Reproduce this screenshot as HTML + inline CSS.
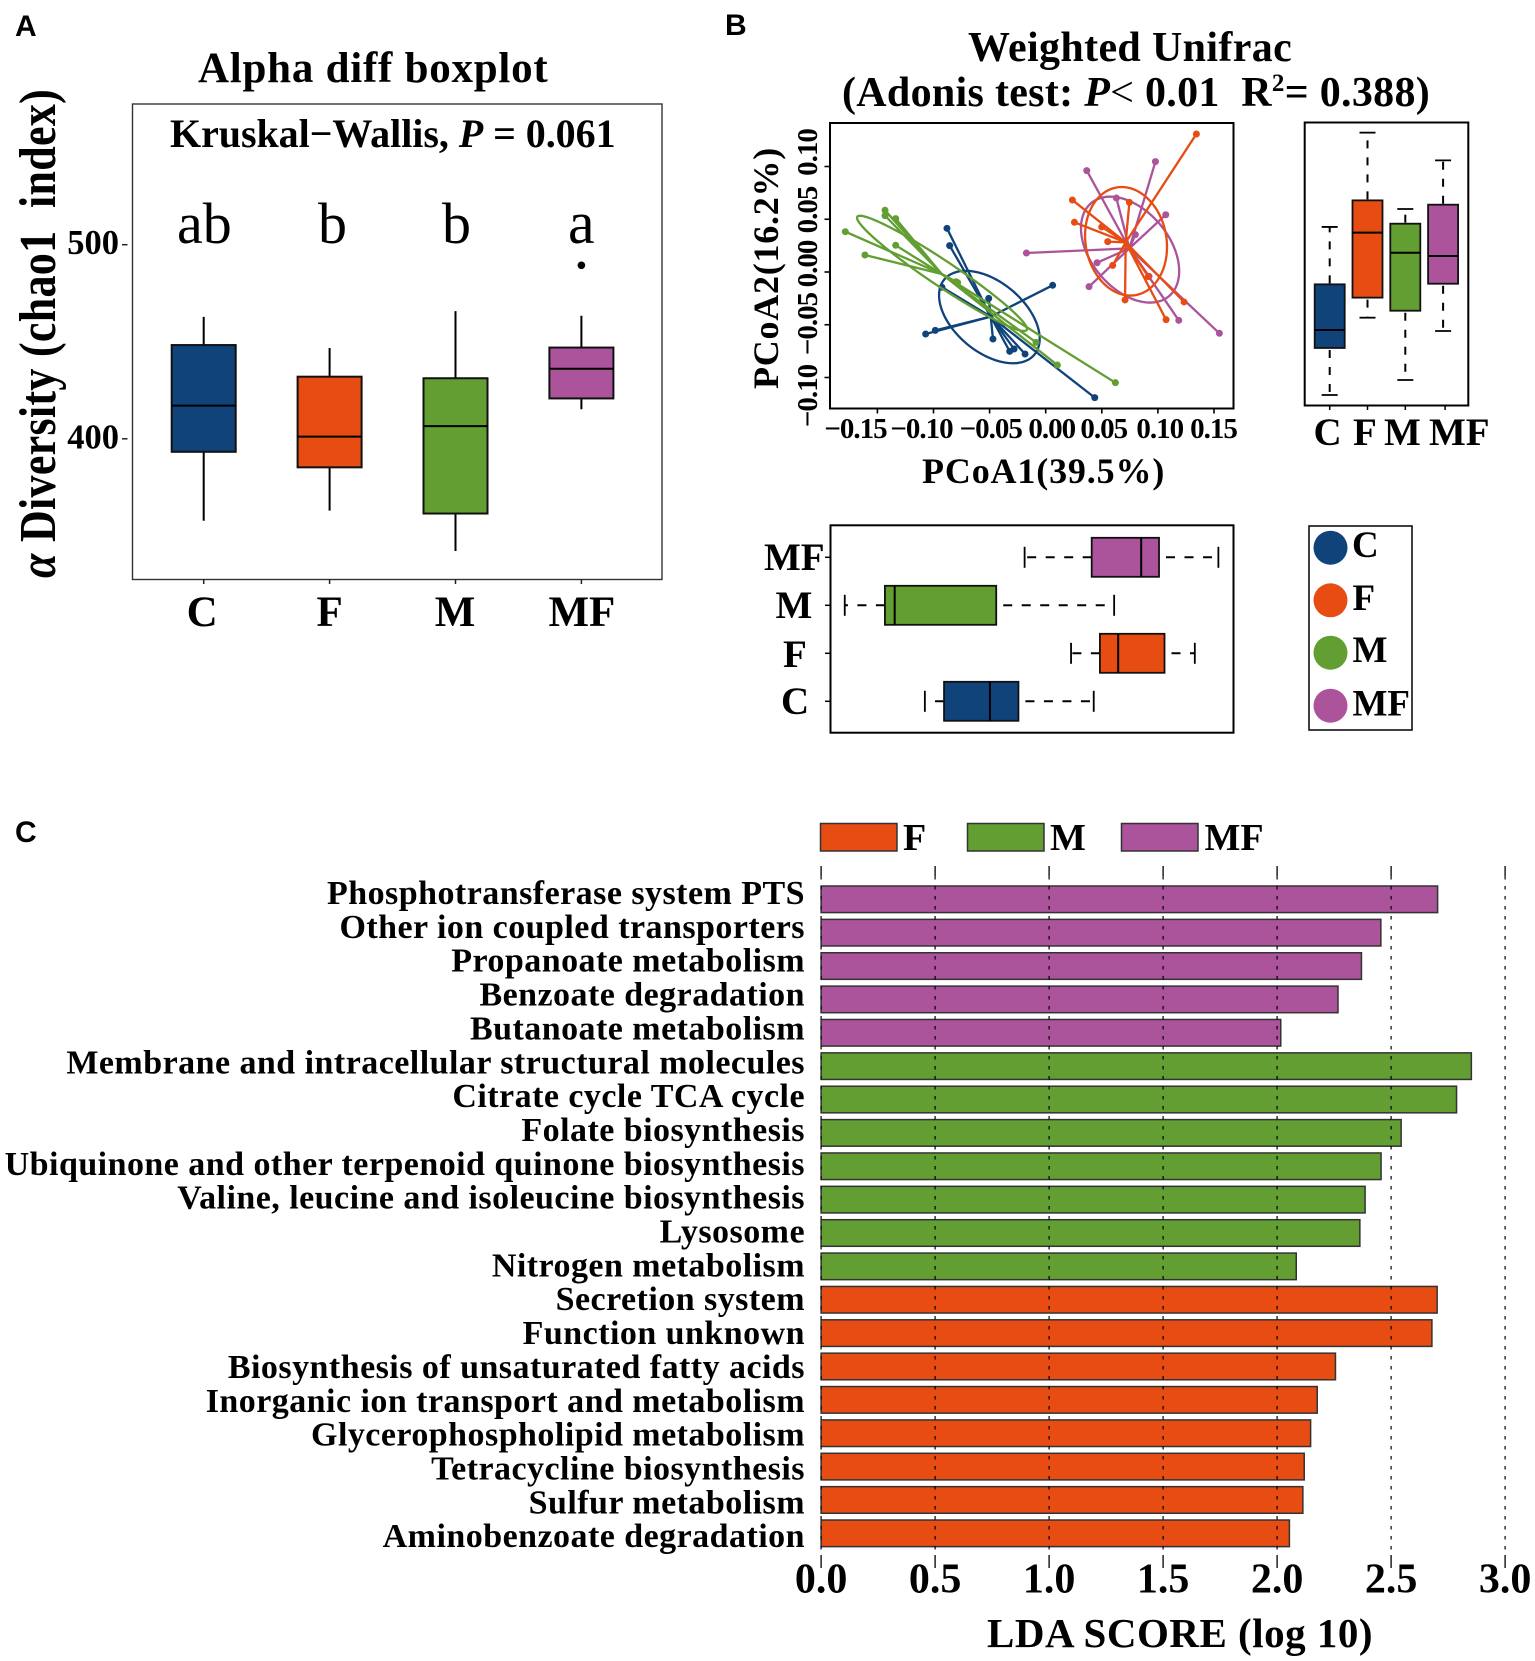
<!DOCTYPE html>
<html lang="en">
<head>
<meta charset="utf-8">
<title>Alpha diversity, PCoA and LDA score figure</title>
<style>
html,body{margin:0;padding:0;background:#fff;}
svg{display:block;}
text{font-family:"Liberation Serif",serif;font-weight:700;fill:#000;white-space:pre;}
.panel{font-family:"Liberation Sans",sans-serif;font-size:30px;}
.reg{font-weight:400;}
</style>
</head>
<body>
<svg id="fig" xmlns="http://www.w3.org/2000/svg" width="1535" height="1661" viewBox="0 0 1535 1661">
<rect x="0" y="0" width="1535" height="1661" fill="#fff"/>

<!-- Panel A static text -->
<text class="panel" x="15" y="36">A</text>
<text x="198" y="82" font-size="43" letter-spacing="0.75">Alpha diff boxplot</text>
<rect x="132.5" y="104" width="529.5" height="475.5" fill="none" stroke="#333" stroke-width="1.4"/>
<text x="170" y="147" font-size="40" letter-spacing="-0.05">Kruskal−Wallis, <tspan font-style="italic">P</tspan> = 0.061</text>
<text class="reg" x="177" y="243" font-size="58">ab</text>
<text class="reg" x="318" y="243" font-size="58">b</text>
<text class="reg" x="442" y="243" font-size="58">b</text>
<text class="reg" x="568" y="243" font-size="60">a</text>
<text transform="translate(55,578) rotate(-90) scale(1,1.18)" font-size="44" letter-spacing="0.3"><tspan font-style="italic">α</tspan> Diversity (chao1  index)</text>

<!-- Panel B static text -->
<text class="panel" x="725" y="35">B</text>
<text x="968" y="61" font-size="42" letter-spacing="0.35">Weighted Unifrac</text>
<text x="842" y="106" font-size="42" letter-spacing="0.3">(Adonis test: <tspan font-style="italic">P</tspan><tspan class="reg">&lt;</tspan> 0.01  R<tspan font-size="25" dy="-15">2</tspan><tspan dy="15">= 0.388)</tspan></text>
<text x="922" y="483" font-size="36" letter-spacing="0.85">PCoA1(39.5%)</text>
<text transform="translate(778,389) rotate(-90)" font-size="36" letter-spacing="0.75">PCoA2(16.2%)</text>

<g letter-spacing="-1" text-anchor="middle">
<text x="855.5" y="438" font-size="29">−0.15</text>
<text x="921.5" y="438" font-size="29">−0.10</text>
<text x="990.8" y="438" font-size="29">−0.05</text>
<text x="1051.8" y="438" font-size="29">0.00</text>
<text x="1103.8" y="438" font-size="29">0.05</text>
<text x="1159.7" y="438" font-size="29">0.10</text>
<text x="1213.5" y="438" font-size="29">0.15</text>
</g>
<g font-size="29" letter-spacing="-1" text-anchor="middle">
<text transform="translate(817,152.5) rotate(-90)">0.10</text>
<text transform="translate(817,210) rotate(-90)">0.05</text>
<text transform="translate(817,264) rotate(-90)">0.00</text>
<text transform="translate(817,324) rotate(-90)">−0.05</text>
<text transform="translate(817,396) rotate(-90)">−0.10</text>
</g>

<text x="1313.5" y="445" font-size="39">C</text>
<text x="1353" y="445" font-size="39">F</text>
<text x="1384" y="445" font-size="39">M</text>
<text x="1429" y="445" font-size="39">MF</text>

<text x="764" y="570" font-size="39">MF</text>
<text x="775.5" y="618" font-size="39">M</text>
<text x="783" y="667" font-size="39">F</text>
<text x="781" y="714" font-size="39">C</text>

<!-- Panel B legend -->
<g>
<rect x="1309" y="526" width="103" height="204" fill="none" stroke="#111" stroke-width="1.6"/>
<circle cx="1330.5" cy="547.7" r="17" fill="#0f437a"/>
<circle cx="1330.5" cy="600.3" r="17" fill="#e74c12"/>
<circle cx="1330.5" cy="652.7" r="17" fill="#629e32"/>
<circle cx="1330.5" cy="705.7" r="17" fill="#ab539b"/>
<text x="1352" y="557" font-size="37">C</text>
<text x="1352.5" y="610" font-size="37">F</text>
<text x="1352.5" y="662" font-size="37">M</text>
<text x="1352.5" y="715.5" font-size="37">MF</text>
</g>

<!-- Panel C static text -->
<text class="panel" x="15" y="842">C</text>
<g>
<rect x="820.5" y="823.5" width="76.5" height="27.5" fill="#e74c12" stroke="#333" stroke-width="1.5"/>
<text x="903" y="850" font-size="38">F</text>
<rect x="967.5" y="823.5" width="76.5" height="27.5" fill="#629e32" stroke="#333" stroke-width="1.5"/>
<text x="1050" y="850" font-size="38">M</text>
<rect x="1121.5" y="823.5" width="76.5" height="27.5" fill="#ab539b" stroke="#333" stroke-width="1.5"/>
<text x="1204.5" y="850" font-size="38">MF</text>
</g>
<text x="987" y="1647" font-size="41" letter-spacing="0.5">LDA SCORE (log 10)</text>
</svg>

<script>
/* ---------- Panel A: alpha diversity ---------- */
const groupNames = ['C', 'F', 'M', 'MF'];
const alphaWhiskerHigh = [462.8, 446.8, 465.8, 463.4];
const alphaQ3 = [448.3, 432.0, 431.2, 447.0];
const alphaMedian = [417.1, 401.1, 406.5, 436.1];
const alphaQ1 = [393.3, 385.3, 361.5, 420.8];
const alphaWhiskerLow = [357.8, 363.0, 342.2, 415.2];
const alphaOutliers = [null, null, null, 489.4];
const alphaTicks = [400, 500];

/* ---------- Panel B: PCoA samples (PCoA1, PCoA2) ---------- */
const cPoints = [[-0.1070,-0.0588],[-0.0984,-0.0553],[-0.0924,-0.0145],[-0.0880,0.0414],[-0.0856,0.0250],[-0.0508,-0.0250],[-0.0470,-0.0635],[-0.0321,-0.0752],[-0.0282,-0.0730],[-0.0184,-0.0777],[0.0062,-0.0126],[0.0437,-0.1191]];
const mPoints = [[-0.1786,0.0382],[-0.1611,0.0161],[-0.1432,0.0585],[-0.1432,0.0534],[-0.1337,0.0506],[-0.1337,0.0253],[-0.0785,-0.0101],[-0.0799,-0.0092],[-0.0086,-0.0667],[0.0104,-0.0882],[0.0621,-0.1049]];
const mfPoints = [[0.0366,0.0961],[0.0978,0.1046],[0.0630,0.0701],[0.1070,0.0543],[0.0799,0.0354],[-0.0172,0.0180],[0.0458,0.0088],[0.0386,-0.0139],[0.0921,-0.0041],[0.1186,-0.0458],[0.1548,-0.0581]];
const fPoints = [[0.1343,0.1308],[0.0238,0.0682],[0.0256,0.0471],[0.0499,0.0427],[0.0553,0.0288],[0.0597,0.0063],[0.0707,-0.0265],[0.0746,0.0660],[0.1073,-0.0452],[0.1233,-0.0284],[0.0915,-0.0044]];
const cCentroid = [-0.0490,-0.0423];
const mCentroid = [-0.0927,-0.0019];
const mfCentroid = [0.0746,0.0224];
const fCentroid = [0.0713,0.0281];
/* ellipses: centre, major semi-axis vector, minor semi-axis vector (data units) */
const cEllipse = [[-0.0502,-0.0427],[0.0401,-0.0357],[0.0201,0.0254]];
const mEllipse = [[-0.0924,-0.0013],[0.0755,-0.0537],[0.00624,0.00998]];
const mfEllipse = [[0.0752,0.0212],[0.0346,-0.0442],[0.0268,0.0238]];
const fEllipse = [[0.0716,0.0291],[0.0086,-0.0510],[0.0355,0.0068]];
const pcoaXTicks = [-0.15,-0.10,-0.05,0,0.05,0.10,0.15];
const pcoaYTicks = [-0.10,-0.05,0,0.05,0.10];

/* marginal box plots, order C F M MF */
const pc2High = [0.0427, 0.1321, 0.0597, 0.1058];
const pc2Q3 = [-0.0117, 0.0679, 0.0458, 0.0638];
const pc2Median = [-0.0550, 0.0373, 0.0183, 0.0152];
const pc2Q1 = [-0.0720, -0.0243, -0.0367, -0.0111];
const pc2Low = [-0.1166, -0.0433, -0.1024, -0.0559];
const pc1High = [0.0428, 0.1329, 0.0610, 0.1539];
const pc1Q3 = [-0.0243, 0.1059, -0.0441, 0.1010];
const pc1Median = [-0.0497, 0.0646, -0.1346, 0.0851];
const pc1Q1 = [-0.0906, 0.0483, -0.1433, 0.0410];
const pc1Low = [-0.1077, 0.0226, -0.1791, -0.0188];

/* ---------- Panel C: LDA ---------- */
const pathways = ['Phosphotransferase system PTS','Other ion coupled transporters','Propanoate metabolism','Benzoate degradation','Butanoate metabolism','Membrane and intracellular structural molecules','Citrate cycle TCA cycle','Folate biosynthesis','Ubiquinone and other terpenoid quinone biosynthesis','Valine, leucine and isoleucine biosynthesis','Lysosome','Nitrogen metabolism','Secretion system','Function unknown','Biosynthesis of unsaturated fatty acids','Inorganic ion transport and metabolism','Glycerophospholipid metabolism','Tetracycline biosynthesis','Sulfur metabolism','Aminobenzoate degradation'];
const ldaScores = [2.704,2.455,2.370,2.267,2.016,2.852,2.787,2.544,2.456,2.386,2.363,2.084,2.702,2.679,2.256,2.176,2.147,2.119,2.113,2.054];
const ldaGroups = ['MF','MF','MF','MF','MF','M','M','M','M','M','M','M','F','F','F','F','F','F','F','F'];
const ldaTicks = [0,0.5,1,1.5,2,2.5,3];
const ldaTickLabels = ['0.0','0.5','1.0','1.5','2.0','2.5','3.0'];

const COLORS = {C:'#0f437a', F:'#e74c12', M:'#629e32', MF:'#ab539b'};
const NS = 'http://www.w3.org/2000/svg';
const fig = document.getElementById('fig');

function add(parent, tag, attrs) {
  const e = document.createElementNS(NS, tag);
  for (const k in attrs) e.setAttribute(k, attrs[k]);
  parent.appendChild(e);
  return e;
}

/* axis functions */
const alphaX = i => 203.7 + i * 125.9;
const alphaY = v => 244.7 + (500 - v) * 1.941;
const pcoaX = v => 1045.7 + v * 1122;
const pcoaY = v => 272 - v * 1055;
const rightX = i => 1329.7 + i * 37.8;
const bottomY = i => 701.3 - i * 48;
const ldaX = v => 821.1 + v * 228;
const ldaY = i => 899.3 + i * 33.37;
const ldaLabelY = i => 904 + i * 33.85;

/* Panel A */
{
  const g = add(fig, 'g', {});
  
  
  alphaTicks.forEach(t => {
    const tick = add(g, 'line', {x1:122, x2:127.5, y1:alphaY(t), y2:alphaY(t), stroke:'#222', 'stroke-width':1.5});
    
    
    const label = add(g, 'text', {x:119, y:alphaY(t) + 9.5, 'font-size':34.5, 'text-anchor':'end'});
    
    
    label.textContent = t;
  });
  groupNames.forEach((name, i) => {
    const x = alphaX(i);
    const w = 64;
    const whisker = add(g, 'line', {x1:x, x2:x, y1:alphaY(alphaWhiskerHigh[i]), y2:alphaY(alphaWhiskerLow[i]), stroke:'#000', 'stroke-width':2});
    
    
    const box = add(g, 'rect', {x:x - w / 2, y:alphaY(alphaQ3[i]), width:w, height:alphaY(alphaQ1[i]) - alphaY(alphaQ3[i]), fill:COLORS[name], stroke:'#111', 'stroke-width':2});
    
    
    const med = add(g, 'line', {x1:x - w / 2, x2:x + w / 2, y1:alphaY(alphaMedian[i]), y2:alphaY(alphaMedian[i]), stroke:'#000', 'stroke-width':2});
    
    
    if (alphaOutliers[i] !== null) {
      const o = add(g, 'circle', {cx:x, cy:alphaY(alphaOutliers[i]), r:3.8, fill:'#000'});
      
      
    }
    const tick = add(g, 'line', {x1:x, x2:x, y1:579.5, y2:584, stroke:'#222', 'stroke-width':1.5});
    
    
    const label = add(g, 'text', {x:x + (i === 0 ? -1.5 : i === 1 ? 0 : i === 2 ? -0.5 : 0.5), y:626, 'font-size':43, 'text-anchor':'middle'});
    
    
    label.textContent = name;
  });
}

/* Panel B: scatter */
{
  const frame = add(fig, 'rect', {x:830, y:123, width:403.5, height:285.5, fill:'none', stroke:'#000', 'stroke-width':2});
  
  
  pcoaXTicks.forEach(t => {
    const tick = add(fig, 'line', {x1:pcoaX(t), x2:pcoaX(t), y1:408.5, y2:413.5, stroke:'#000', 'stroke-width':1.6});
    
    
  });
  pcoaYTicks.forEach(t => {
    const tick = add(fig, 'line', {x1:824.5, x2:830, y1:pcoaY(t), y2:pcoaY(t), stroke:'#000', 'stroke-width':1.6});
    
    
  });
  const series = [
    ['C', cPoints, cCentroid, cEllipse],
    ['M', mPoints, mCentroid, mEllipse],
    ['MF', mfPoints, mfCentroid, mfEllipse],
    ['F', fPoints, fCentroid, fEllipse]
  ];
  series.forEach(([name, pts, hub, ell]) => {
    const g = add(fig, 'g', {});
    
    
    const col = COLORS[name];
    pts.forEach(p => {
      const s = add(g, 'line', {x1:pcoaX(hub[0]), y1:pcoaY(hub[1]), x2:pcoaX(p[0]), y2:pcoaY(p[1]), stroke:col, 'stroke-width':2.3});
      
      
    });
    let d = '';
    for (let k = 0; k <= 96; k++) {
      const t = k / 96 * 2 * Math.PI;
      const ex = ell[0][0] + Math.cos(t) * ell[1][0] + Math.sin(t) * ell[2][0];
      const ey = ell[0][1] + Math.cos(t) * ell[1][1] + Math.sin(t) * ell[2][1];
      d += (k ? 'L' : 'M') + pcoaX(ex).toFixed(2) + ' ' + pcoaY(ey).toFixed(2);
    }
    const path = add(g, 'path', {d:d + 'Z', fill:'none', stroke:col, 'stroke-width':2.3});
    
    
    pts.forEach(p => {
      const c = add(g, 'circle', {cx:pcoaX(p[0]), cy:pcoaY(p[1]), r:3.5, fill:col});
      
      
    });
  });
}

/* Panel B: right marginal boxplot (vertical) */
{
  const frame = add(fig, 'rect', {x:1304.7, y:122.5, width:163.6, height:283, fill:'none', stroke:'#000', 'stroke-width':2});
  
  
  groupNames.forEach((name, i) => {
    const x = rightX(i);
    const w = 30;
    const hiW = add(fig, 'line', {x1:x, x2:x, y1:pcoaY(pc2Q3[i]) - 1, y2:pcoaY(pc2High[i]), stroke:'#000', 'stroke-width':2, 'stroke-dasharray':'8 9'});
    
    
    const loW = add(fig, 'line', {x1:x, x2:x, y1:pcoaY(pc2Q1[i]) + 2, y2:pcoaY(pc2Low[i]), stroke:'#000', 'stroke-width':2, 'stroke-dasharray':'8 9'});
    
    
    const capH = add(fig, 'line', {x1:x - 8, x2:x + 8, y1:pcoaY(pc2High[i]), y2:pcoaY(pc2High[i]), stroke:'#000', 'stroke-width':1.8});
    
    
    const capL = add(fig, 'line', {x1:x - 8, x2:x + 8, y1:pcoaY(pc2Low[i]), y2:pcoaY(pc2Low[i]), stroke:'#000', 'stroke-width':1.8});
    
    
    const box = add(fig, 'rect', {x:x - w / 2, y:pcoaY(pc2Q3[i]), width:w, height:pcoaY(pc2Q1[i]) - pcoaY(pc2Q3[i]), fill:COLORS[name], stroke:'#111', 'stroke-width':1.8});
    
    
    const med = add(fig, 'line', {x1:x - w / 2, x2:x + w / 2, y1:pcoaY(pc2Median[i]), y2:pcoaY(pc2Median[i]), stroke:'#000', 'stroke-width':2});
    
    
    const tick = add(fig, 'line', {x1:x + (i === 3 ? 2 : 0), x2:x + (i === 3 ? 2 : 0), y1:405.5, y2:410, stroke:'#000', 'stroke-width':1.5});
    
    
  });
}

/* Panel B: bottom marginal boxplot (horizontal) */
{
  const frame = add(fig, 'rect', {x:830.5, y:525.3, width:403, height:207.4, fill:'none', stroke:'#000', 'stroke-width':2});
  
  
  groupNames.forEach((name, i) => {
    const y = bottomY(i);
    const h = 39;
    const hiW = add(fig, 'line', {x1:pcoaX(pc1Q3[i]) + 7, x2:pcoaX(pc1High[i]), y1:y, y2:y, stroke:'#000', 'stroke-width':2, 'stroke-dasharray':'9 9.5'});
    
    
    const loW = add(fig, 'line', {x1:pcoaX(pc1Q1[i]), x2:pcoaX(pc1Low[i]), y1:y, y2:y, stroke:'#000', 'stroke-width':2, 'stroke-dasharray':'9 9.5'});
    
    
    const capH = add(fig, 'line', {x1:pcoaX(pc1High[i]), x2:pcoaX(pc1High[i]), y1:y - 10.5, y2:y + 10.5, stroke:'#000', 'stroke-width':1.8});
    
    
    const capL = add(fig, 'line', {x1:pcoaX(pc1Low[i]), x2:pcoaX(pc1Low[i]), y1:y - 10.5, y2:y + 10.5, stroke:'#000', 'stroke-width':1.8});
    
    
    const box = add(fig, 'rect', {x:pcoaX(pc1Q1[i]), y:y - h / 2, width:pcoaX(pc1Q3[i]) - pcoaX(pc1Q1[i]), height:h, fill:COLORS[name], stroke:'#111', 'stroke-width':1.8});
    
    
    const med = add(fig, 'line', {x1:pcoaX(pc1Median[i]), x2:pcoaX(pc1Median[i]), y1:y - h / 2, y2:y + h / 2, stroke:'#000', 'stroke-width':2});
    
    
    const tick = add(fig, 'line', {x1:825, x2:830.5, y1:y, y2:y, stroke:'#000', 'stroke-width':1.5});
    
    
  });
}

/* Panel C */
{
  const g = add(fig, 'g', {});
  
  
  pathways.forEach((name, i) => {
    const y = ldaY(i);
    const bar = add(g, 'rect', {x:ldaX(0), y:y - 13.3, width:ldaX(ldaScores[i]) - ldaX(0), height:26.6, fill:COLORS[ldaGroups[i]], stroke:'#333', 'stroke-width':1.5});
    
    
    const label = add(g, 'text', {x:805, y:ldaLabelY(i), 'font-size':34, 'letter-spacing':0.46, 'text-anchor':'end'});
    
    
    label.textContent = name;
  });
  ldaTicks.forEach((t, i) => {
    const x = ldaX(t);
    const grid = add(g, 'line', {x1:x, x2:x, y1:876, y2:1555, stroke:'#000', 'stroke-width':1.2, 'stroke-dasharray':'3.5 6.5'});
    
    
    const top = add(g, 'line', {x1:x, x2:x, y1:866, y2:876, stroke:'#000', 'stroke-width':1.3});
    
    
    const label = add(g, 'text', {x:x, y:1592.7, 'font-size':42, 'text-anchor':'middle'});
    
    
    label.textContent = ldaTickLabels[i];
    const bottom = add(g, 'line', {x1:x, x2:x, y1:1555, y2:1568, stroke:'#000', 'stroke-width':1.3});
    
    
  });
}
</script>
</body>
</html>
